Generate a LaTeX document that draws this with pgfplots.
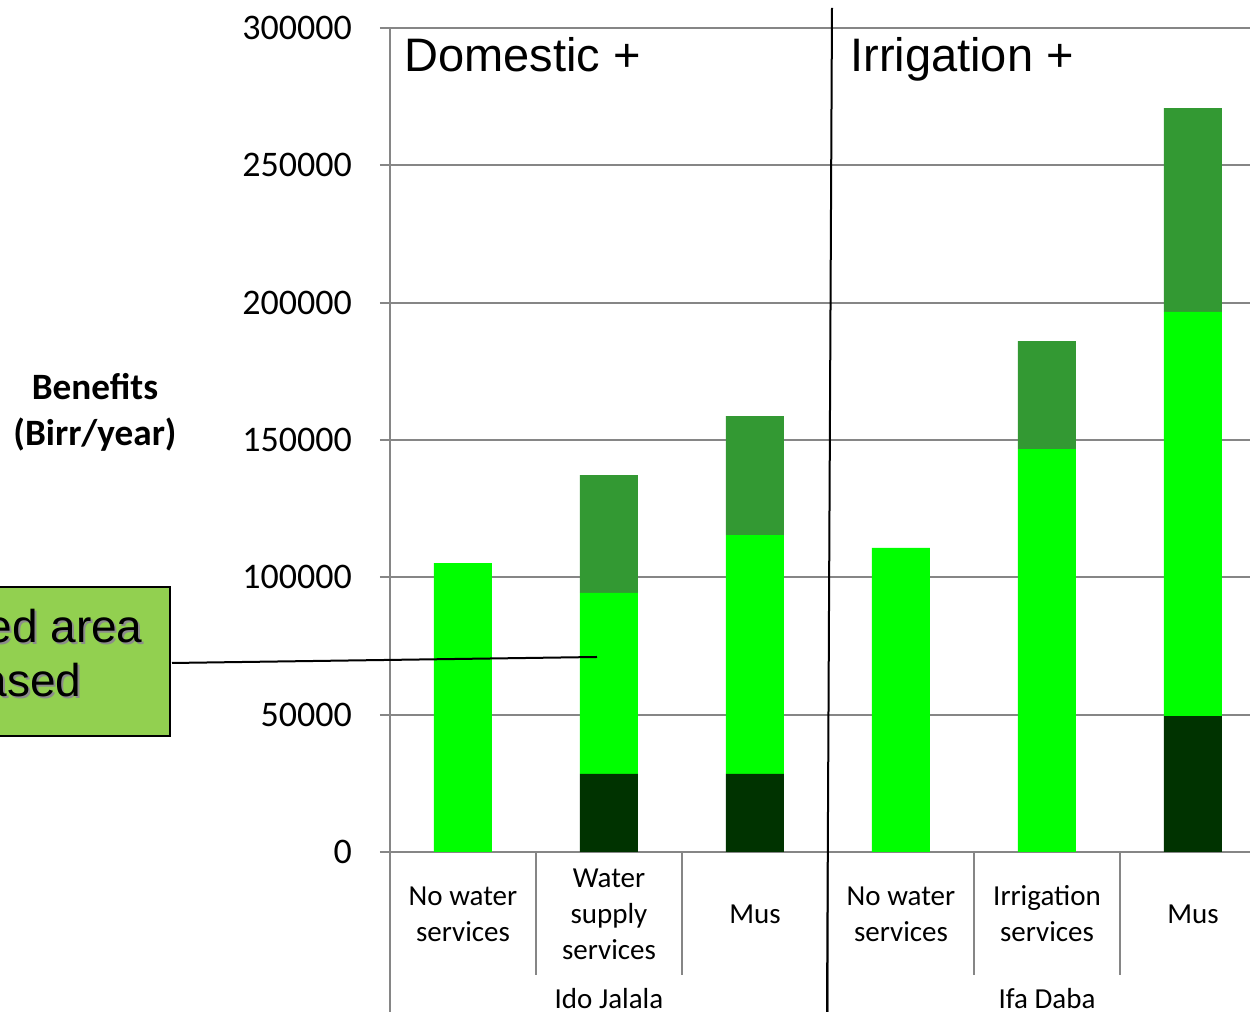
\documentclass[border=0pt]{standalone}
\usepackage{pgfplots}
\pgfplotsset{compat=1.18}
\usepackage{fontspec}
\setmainfont{Carlito}
\newfontfamily\arial{Liberation Sans}
\definecolor{dk}{HTML}{003300}
\definecolor{br}{HTML}{00FF00}
\definecolor{md}{HTML}{339933}
\definecolor{gr}{HTML}{868686}
\definecolor{callout}{HTML}{92D050}
\begin{document}
\begin{tikzpicture}[x=0.5pt,y=0.5pt]
\clip (0,0) rectangle (1250,1012);
\begin{axis}[
  at={(195pt,80pt)}, anchor=south west,
  scale only axis, width=438pt, height=412pt,
  xmin=-0.5, xmax=5.5, ymin=0, ymax=300000,
  ybar stacked, bar width=29pt,
  separate axis lines, axis x line*=bottom, axis y line*=left,
  axis line style={draw=gr, line width=1pt},
  ytick={0,50000,100000,150000,200000,250000,300000},
  ymajorgrids, grid style={draw=gr, line width=1pt},
  scaled y ticks=false,
  yticklabel style={/pgf/number format/fixed, /pgf/number format/1000 sep={}, font=\fontsize{18}{21}\selectfont, anchor=east, xshift=-10.5pt},
  /pgf/number format/assume math mode=true,
  tick align=outside, major tick length=5pt,
  ytick style={draw=gr, line width=1pt},
  xtick={0,1,2,3,4,5},
  xtick style={draw=none},
  xticklabels={{No water\\services},{Water\\supply\\services},{Mus},{No water\\services},{Irrigation\\services},{Mus}},
  xticklabel style={align=center, anchor=center, font=\fontsize{14.5}{18}\selectfont, yshift=-26pt},
]
\addplot[fill=dk, draw=none] coordinates {(0,0) (1,28400) (2,28400) (3,0) (4,0) (5,49500)};
\addplot[fill=br, draw=none] coordinates {(0,105200) (1,65900) (2,87000) (3,110700) (4,146700) (5,147100)};
\addplot[fill=md, draw=none] coordinates {(0,0) (1,42900) (2,43300) (3,0) (4,39300) (5,74200)};
\end{axis}
% category separators
\draw[gr, line width=1pt] (390,160) -- (390,0);
\draw[gr, line width=1pt] (828,160) -- (828,0);
\foreach \xx in {536,682,974,1120} \draw[gr, line width=1pt] (\xx,160) -- (\xx,37);
\node[anchor=base, font=\fontsize{14.5}{18}\selectfont] at (609,3) {Ido Jalala};
\node[anchor=base, font=\fontsize{14.5}{18}\selectfont] at (1047,3) {Ifa Daba};
% divider
\draw[black, line width=1pt] (832,1004) -- (827,0);
\node[anchor=base west, font=\arial\fontsize{23.5}{28}\selectfont, inner sep=0pt] at (404,940) {Domestic +};
\node[anchor=base west, font=\arial\fontsize{23.5}{28}\selectfont, inner sep=0pt] at (850,940) {Irrigation +};
% y label
\node[align=center, font=\bfseries\fontsize{18.6}{23}\selectfont] at (95,600) {Benefits\\(Birr/year)};
% callout
\draw[fill=callout, line width=1pt] (-200,276) rectangle (170,425);
\draw[black, line width=1pt] (172,349) -- (597,355);
\node[anchor=base east, inner sep=0pt, text=black!45, font=\arial\fontsize{23}{28}\selectfont] at (145,367) {Irrigated area};
\node[anchor=base east, inner sep=0pt, text=black!45, font=\arial\fontsize{23}{28}\selectfont] at (84,313) {increased};
\node[anchor=base east, inner sep=0pt, font=\arial\fontsize{23}{28}\selectfont] at (143,369) {Irrigated area};
\node[anchor=base east, inner sep=0pt, font=\arial\fontsize{23}{28}\selectfont] at (82,315) {increased};
\end{tikzpicture}
\end{document}
